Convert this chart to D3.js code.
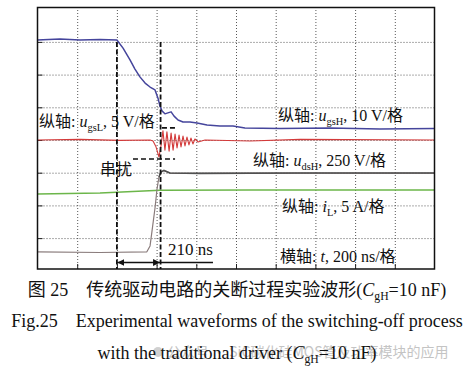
<!DOCTYPE html>
<html>
<head>
<meta charset="utf-8">
<script src="https://cdn.jsdelivr.net/npm/d3@7"></script>
<style>
body { margin: 0; background: #fff; }
</style>
</head>
<body>
<div id="chart"></div>
<script>
// traces: [time in ns, screen divisions from bottom]
const ugsL = [[0,7.06],[113,7.09],[214,7.06],[315,7.07],[400,7.06],[431,6.81],[466,6.45],[491,6.17],[516,5.93],[542,5.74],[567,5.62],[592,5.53],[607,5.28],[617,5.04],[627,4.89],[642,4.80],[657,4.83],[673,4.86],[688,4.73],[708,4.61],[733,4.55],[768,4.55],[804,4.52],[854,4.46],[919,4.43],[985,4.43],[1045,4.37],[1222,4.35],[1474,4.37],[1725,4.34],[2000,4.35]]
const ugsH = [[0,4.00],[214,4.02],[416,3.99],[567,4.00],[582,3.97],[597,3.79],[612,3.48],[622,3.82],[632,4.28],[642,3.69],[652,4.25],[663,3.66],[673,4.21],[683,3.69],[693,4.18],[703,3.76],[713,4.15],[723,3.79],[733,4.12],[743,3.82],[753,4.09],[763,3.85],[773,4.06],[783,3.88],[793,4.03],[809,3.94],[844,4.00],[1071,3.97],[1323,4.02],[2000,4.00]]
const udsH = [[0,0.58],[315,0.56],[551,0.58],[567,0.76],[577,1.22],[592,1.92],[602,2.50],[612,2.87],[622,3.02],[637,3.07],[667,2.99],[819,2.98],[1322,2.99],[2000,2.99]]
const iL = [[0,2.35],[315,2.38],[617,2.46],[1071,2.47],[2000,2.47]]

const edges = [400, 620]          // ns, the two dashed markers
const crosstalk = [[627, 693, 4.37], [481, 693, 3.42]]   // [t0, t1, div]
const arrowEnd = 884

const labels = [
  { x: 39,  y: 127, parts: [["纵轴: "], ["u", "i"], ["gsL", "s"], [", 5 V/格"]] },
  { x: 278, y: 121, parts: [["纵轴: "], ["u", "i"], ["gsH", "s"], [", 10 V/格"]] },
  { x: 253, y: 166, parts: [["纵轴: "], ["u", "i"], ["dsH", "s"], [", 250 V/格"]] },
  { x: 282, y: 212, parts: [["纵轴: "], ["i", "i"], ["L", "s"], [", 5 A/格"]] },
  { x: 280, y: 262, parts: [["横轴: "], ["t", "i"], [", 200 ns/格"]] },
  { x: 100, y: 175, parts: [["串扰"]] },
  { x: 168, y: 255, parts: [["210 ns"]], size: 17 }
]

const W = 467, H = 371
const FRAME = { L: 37.5, R: 434.5, T: 7.5, B: 269 }
const FONT = "'Liberation Serif','Times New Roman','Noto Sans CJK SC',serif"

const svg = d3.select("#chart").append("svg")
  .attr("width", W).attr("height", H)
  .style("font-family", FONT)

const x = d3.scaleLinear().domain([0, 2000]).range([FRAME.L, FRAME.R])
const y = d3.scaleLinear().domain([0, 8]).range([270.8, 9.2])

svg.append("clipPath").attr("id", "clip")
  .append("rect")
  .attr("x", FRAME.L).attr("y", FRAME.T)
  .attr("width", FRAME.R - FRAME.L).attr("height", FRAME.B - FRAME.T)

const plot = svg.append("g").attr("clip-path", "url(#clip)")

// GRID-------------------------------------------------------------
const gx = plot.append("g")
  .attr("transform", `translate(0, ${FRAME.B})`)
  .call(d3.axisBottom(x).tickValues(d3.range(200, 2000, 200)).tickSize(-(FRAME.B - FRAME.T)).tickFormat(""))
const gy = plot.append("g")
  .attr("transform", `translate(${FRAME.L}, 0)`)
  .call(d3.axisLeft(y).tickValues(d3.range(1, 8)).tickSize(-(FRAME.R - FRAME.L)).tickFormat(""))
;[gx, gy].forEach(g => {
  g.select(".domain").remove()
  g.selectAll("line").attr("stroke", "#444").attr("stroke-width", 0.9).attr("stroke-dasharray", "1,2")
})

// small solid ticks on left and bottom edge
const tb = plot.append("g").attr("transform", `translate(0, ${FRAME.B})`)
  .call(d3.axisBottom(x).tickValues(d3.range(200, 2000, 200)).tickSize(-5).tickFormat(""))
const tl = plot.append("g").attr("transform", `translate(${FRAME.L}, 0)`)
  .call(d3.axisLeft(y).tickValues(d3.range(1, 8)).tickSize(-5).tickFormat(""))
;[tb, tl].forEach(g => {
  g.select(".domain").remove()
  g.selectAll("line").attr("stroke", "#222").attr("stroke-width", 1)
})

// TRACES-----------------------------------------------------------
const line = d3.line().x(d => x(d[0])).y(d => y(d[1]))
const traces = [
  { data: iL,   color: "#6cb64a", w: 1.5 },
  { data: udsH, color: "#8a7c7c", w: 1.2 },
  { data: udsH.filter(d => d[0] >= 612), color: "#505050", w: 1.6 },
  { data: ugsH, color: "#d33a3a", w: 1.1 },
  { data: ugsL, color: "#45459c", w: 1.5 }
]
plot.selectAll(".trace").data(traces).enter().append("path")
  .attr("class", "trace")
  .attr("d", d => line(d.data))
  .attr("fill", "none")
  .attr("stroke", d => d.color)
  .attr("stroke-width", d => d.w)
  .attr("stroke-linejoin", "round")

// MARKERS----------------------------------------------------------
plot.selectAll(".edge").data(edges).enter().append("line")
  .attr("class", "edge")
  .attr("x1", d => x(d)).attr("x2", d => x(d))
  .attr("y1", y(7)).attr("y2", y(0))
  .attr("stroke", "#111").attr("stroke-width", 1.8).attr("stroke-dasharray", "5,2.5")

plot.selectAll(".xtalk").data(crosstalk).enter().append("line")
  .attr("class", "xtalk")
  .attr("x1", d => x(d[0])).attr("x2", d => x(d[1]))
  .attr("y1", d => y(d[2])).attr("y2", d => y(d[2]))
  .attr("stroke", "#111").attr("stroke-width", 1.6).attr("stroke-dasharray", "5,3")

svg.append("defs").append("marker")
  .attr("id", "ah").attr("viewBox", "0 0 10 10")
  .attr("refX", 10).attr("refY", 5)
  .attr("markerWidth", 7).attr("markerHeight", 7)
  .attr("markerUnits", "userSpaceOnUse")
  .attr("orient", "auto-start-reverse")
  .append("path").attr("d", "M0,0L10,5L0,10Z").attr("fill", "#111")

const ay = y(0.254)
plot.append("line")
  .attr("x1", x(edges[0]) + 0.5).attr("x2", x(edges[1]) - 0.5)
  .attr("y1", ay).attr("y2", ay)
  .attr("stroke", "#111").attr("stroke-width", 1.3)
  .attr("marker-start", "url(#ah)").attr("marker-end", "url(#ah)")
plot.append("line")
  .attr("x1", x(edges[1])).attr("x2", x(arrowEnd))
  .attr("y1", ay).attr("y2", ay)
  .attr("stroke", "#111").attr("stroke-width", 1.3)

// FRAME------------------------------------------------------------
svg.append("rect")
  .attr("x", FRAME.L).attr("y", FRAME.T)
  .attr("width", FRAME.R - FRAME.L).attr("height", FRAME.B - FRAME.T)
  .attr("fill", "none").attr("stroke", "#111").attr("stroke-width", 1.5)

// TEXT-------------------------------------------------------------
function rich(sel, parts, size) {
  let shifted = false
  parts.forEach(p => {
    const ts = sel.append("tspan").text(p[0])
    if (p[1] === "i") ts.style("font-style", "italic")
    if (p[1] === "s") {
      ts.attr("font-size", size * 0.65).attr("dy", 4)
      shifted = true
    } else if (shifted) {
      ts.attr("dy", -4)
      shifted = false
    }
  })
}

labels.forEach(l => {
  const size = l.size || 16
  const t = svg.append("text")
    .attr("x", l.x).attr("y", l.y)
    .attr("font-size", size).attr("fill", "#111")
  rich(t, l.parts, size)
})

const caption = [
  { y: 296, parts: [["图 25\u3000传统驱动电路的关断过程实验波形("], ["C", "i"], ["gH", "s"], ["=10 nF)"]] },
  { y: 327, parts: [["Fig.25\u2003Experimental waveforms of the switching-off process"]] },
  { y: 359, parts: [["with the traditional driver ("], ["C", "i"], ["gH", "s"], ["=10 nF)"]] }
]

// watermark sits under the last caption line
svg.append("circle").attr("cx", 158).attr("cy", 352).attr("r", 5).attr("fill", "#d0d0d0")
svg.append("text")
  .attr("x", 167).attr("y", 357)
  .attr("font-size", 14).attr("fill", "#c4c4c4")
  .style("font-family", "'Noto Sans CJK SC',sans-serif")
  .text("公众号 · SiC碳化硅MOS管及功率模块的应用")

caption.forEach(c => {
  const t = svg.append("text")
    .attr("x", 237).attr("y", c.y)
    .attr("text-anchor", "middle")
    .attr("font-size", 18).attr("fill", "#111")
  rich(t, c.parts, 18)
})
</script>
</body>
</html>
